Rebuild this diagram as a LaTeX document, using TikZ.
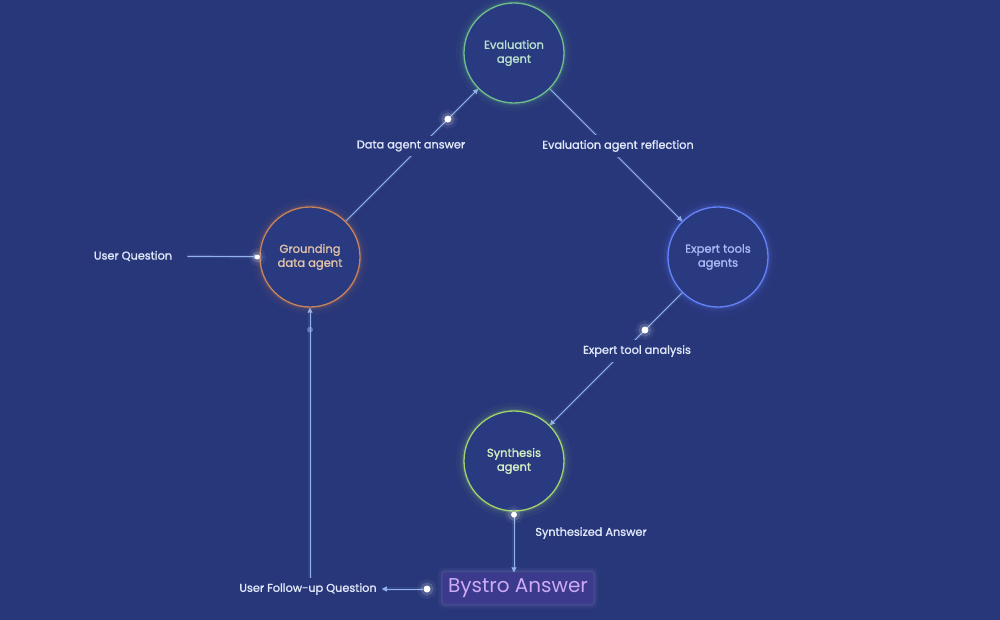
\documentclass[tikz,border=0pt]{standalone}
\usepackage{fontspec}
\setmainfont{Poppins}[AutoFakeBold=1.3]
\usetikzlibrary{arrows.meta,calc}
\definecolor{bg}{RGB}{40,55,122}
\definecolor{bgin}{RGB}{42,58,128}
\definecolor{linec}{RGB}{145,178,236}
\definecolor{labelc}{RGB}{225,232,250}
\definecolor{evalc}{RGB}{110,190,140}
\definecolor{evalt}{RGB}{185,225,205}
\definecolor{groundc}{RGB}{200,130,90}
\definecolor{groundt}{RGB}{225,195,170}
\definecolor{expertc}{RGB}{100,130,250}
\definecolor{expertt}{RGB}{170,185,245}
\definecolor{synthc}{RGB}{160,210,110}
\definecolor{syntht}{RGB}{215,240,195}
\definecolor{bystrof}{RGB}{60,58,140}
\definecolor{bystrot}{RGB}{205,170,245}
\pgfdeclarelayer{back}
\pgfdeclarelayer{lines}
\pgfsetlayers{back,lines,main}
\tikzset{
  agent/.style={circle, minimum size=100pt, inner sep=0pt, draw=#1, line width=1.3pt,
    fill=bgin, align=center, font=\bfseries\fontsize{11.5}{14}\selectfont,
    preaction={draw=#1, line width=16pt, draw opacity=0.04},
    preaction={draw=#1, line width=9pt, draw opacity=0.07},
    preaction={draw=#1, line width=4pt, draw opacity=0.16}},
  lbl/.style={text=labelc, font=\bfseries\fontsize{11.3}{13}\selectfont, fill=bg, inner sep=5pt},
  conn/.style={draw=linec, line width=0.9pt, -{Triangle[length=5pt,width=5pt]},
    preaction={draw=linec, line width=3.5pt, draw opacity=0.12, arrows=-}},
  glowdot/.style={circle, fill=white, inner sep=0pt, minimum size=7pt,
    preaction={draw=white, line width=12pt, draw opacity=0.06},
    preaction={draw=white, line width=6pt, draw opacity=0.15}},
  dimdot/.style={circle, fill=linec, fill opacity=0.5, inner sep=0pt, minimum size=6pt},
}
\begin{document}
\begin{tikzpicture}[x=1pt,y=-1pt]
\begin{pgfonlayer}{back}
\fill[bg] (0,0) rectangle (1000,620);
\end{pgfonlayer}
\useasboundingbox (0,0) rectangle (1000,620);

% agents
\node[agent=evalc, text=evalt] (eval) at (514,53) {Evaluation\\agent};
\node[agent=groundc, text=groundt] (ground) at (310,257) {Grounding\\data agent};
\node[agent=expertc, text=expertt] (expert) at (718,257) {Expert tools\\agents};
\node[agent=synthc, text=syntht] (synth) at (514,461) {Synthesis\\agent};

% result box
\node[fill=bystrof, text=bystrot, rounded corners=2pt, minimum width=150pt, minimum height=31pt,
  inner sep=0pt, font=\fontsize{20}{24}\selectfont,
  preaction={draw=bystrot, line width=10pt, draw opacity=0.05, rounded corners=4pt},
  preaction={draw=bystrot, line width=5pt, draw opacity=0.1, rounded corners=3pt}]
  (bystro) at (518,588) {\raisebox{-2pt}{Bystro Answer}};

% labels
\node[lbl] (userq) at (133,256) {User Question};
\node[lbl] (datalbl) at (411,146) {Data agent answer};
\node[lbl] (refllbl) at (618,146) {Evaluation agent reflection};
\node[lbl] (analysislbl) at (637,351) {Expert tool analysis};
\node[lbl, fill=none] (synthlbl) at (591,533) {Synthesized Answer};
\node[lbl] (followlbl) at (308,589) {User Follow-up Question};

% dots
\node[glowdot] (d1) at ($(ground)!0.676!(eval)$) {};
\node[glowdot] (d2) at ($(expert)!0.358!(synth)$) {};
\node[glowdot, minimum size=6pt] (d3) at ([yshift=-3pt]synth.south) {};
\node[glowdot] (d4) at (427,589) {};
\node[dimdot] (d5) at ([yshift=-22pt]ground.south) {};
\node[glowdot, minimum size=5pt] (d6) at ([xshift=-2pt]ground.west) {};

% connectors
\begin{pgfonlayer}{lines}
\draw[conn, shorten <=10pt] (userq) -- (ground);
\draw[conn] (ground) -- (eval);
\draw[conn] (eval) -- (expert);
\draw[conn] (expert) -- (synth);
\draw[conn] (synth.south) -- (synth.south |- bystro.north);
\draw[conn] (d4) -- (followlbl);
\draw[conn] (followlbl.north -| ground.south) -- (ground.south);
\end{pgfonlayer}
\end{tikzpicture}
\end{document}
